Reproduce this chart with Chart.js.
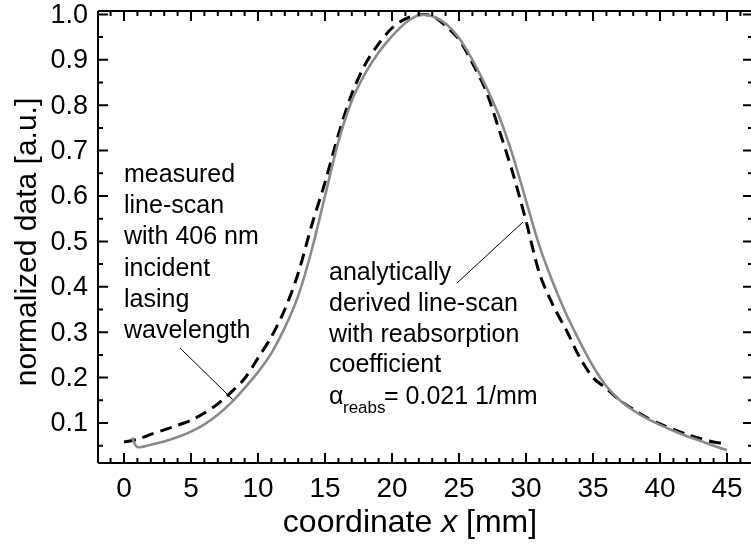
<!DOCTYPE html>
<html>
<head>
<meta charset="utf-8">
<script src="https://cdn.jsdelivr.net/npm/chart.js@4"></script>
<style>
  html, body { margin: 0; padding: 0; background: #fff; }
  #wrap { width: 751px; height: 547px; }
</style>
</head>
<body>
<div id="wrap"><canvas id="lineScan"></canvas></div>
<script>
// ---- DATA ----
// ligne grise : line-scan mesuré
const measuredX = [0.6, 1, 2, 3, 4, 5, 6, 7, 8, 9, 10, 11, 12, 13, 14, 15, 16, 17, 18, 19, 20, 21, 22, 23, 24, 25, 26, 27, 28, 29, 30, 31, 32, 33, 34, 35, 36, 37, 38, 39, 40, 41, 42, 43, 44, 45];
const measuredY = [0.068, 0.047, 0.052, 0.059, 0.069, 0.081, 0.097, 0.118, 0.145, 0.177, 0.212, 0.254, 0.31, 0.38, 0.48, 0.60, 0.72, 0.81, 0.87, 0.916, 0.952, 0.981, 0.998, 0.996, 0.98, 0.948, 0.9, 0.842, 0.775, 0.69, 0.59, 0.49, 0.41, 0.34, 0.28, 0.225, 0.181, 0.15, 0.128, 0.11, 0.096, 0.083, 0.071, 0.061, 0.05, 0.04];

// ligne pointillée : line-scan analytique
const analyticX = [0, 1, 2, 3, 4, 5, 6, 7, 8, 9, 10, 11, 12, 13, 14, 15, 16, 17, 18, 19, 20, 21, 22, 23, 24, 25, 26, 27, 28, 29, 30, 31, 32, 33, 34, 35, 36, 37, 38, 39, 40, 41, 42, 43, 44, 44.7];
const analyticY = [0.058, 0.064, 0.075, 0.085, 0.095, 0.106, 0.122, 0.142, 0.168, 0.198, 0.243, 0.29, 0.35, 0.43, 0.535, 0.63, 0.735, 0.825, 0.89, 0.935, 0.97, 0.99, 0.999, 0.997, 0.975, 0.945, 0.893, 0.833, 0.745, 0.652, 0.545, 0.43, 0.36, 0.305, 0.245, 0.2, 0.176, 0.15, 0.13, 0.112, 0.098, 0.086, 0.075, 0.066, 0.058, 0.055];

// graduations
const xTicks = [0, 5, 10, 15, 20, 25, 30, 35, 40, 45];
const yTicks = [0.1, 0.2, 0.3, 0.4, 0.5, 0.6, 0.7, 0.8, 0.9, 1.0];
const xMinorTicks = [-1, 1, 2, 3, 4, 6, 7, 8, 9, 11, 12, 13, 14, 16, 17, 18, 19, 21, 22, 23, 24, 26, 27, 28, 29, 31, 32, 33, 34, 36, 37, 38, 39, 41, 42, 43, 44, 46];
const yMinorTicks = [0.05, 0.15, 0.25, 0.35, 0.45, 0.55, 0.65, 0.75, 0.85, 0.95];

// textes
const measuredNote = ["measured", "line-scan", "with 406 nm", "incident", "lasing", "wavelength"];
const analyticNote = ["analytically", "derived line-scan", "with reabsorption", "coefficient"];

const FONT = "'Liberation Sans', Arial, sans-serif";

function toPoints(xs, ys) {
  return xs.map((x, i) => ({x: x, y: ys[i]}));
}

// ---- PLUGIN : cadre, graduations vers l'intérieur, textes ----
const framePlugin = {
  id: 'frame',
  afterDraw(chart) {
    const ctx = chart.ctx;
    const a = chart.chartArea;
    const xs = chart.scales.x;
    const ys = chart.scales.y;
    const right = a.right + 2; // le bord droit sort de l'image
    ctx.save();
    ctx.strokeStyle = '#000';
    ctx.lineWidth = 2;
    ctx.beginPath();
    ctx.moveTo(a.left, a.top); ctx.lineTo(right, a.top);
    ctx.moveTo(a.left, a.bottom); ctx.lineTo(right, a.bottom);
    ctx.moveTo(a.left, a.top); ctx.lineTo(a.left, a.bottom);
    ctx.stroke();

    ctx.beginPath();
    xTicks.forEach(v => {
      const p = xs.getPixelForValue(v);
      ctx.moveTo(p, a.bottom); ctx.lineTo(p, a.bottom - 10);
      ctx.moveTo(p, a.top); ctx.lineTo(p, a.top + 10);
    });
    xMinorTicks.forEach(v => {
      const p = xs.getPixelForValue(v);
      ctx.moveTo(p, a.bottom); ctx.lineTo(p, a.bottom - 5);
      ctx.moveTo(p, a.top); ctx.lineTo(p, a.top + 5);
    });
    yTicks.forEach(v => {
      const p = ys.getPixelForValue(v);
      ctx.moveTo(a.left, p); ctx.lineTo(a.left + 10, p);
      ctx.moveTo(right, p); ctx.lineTo(right - 10, p);
    });
    yMinorTicks.forEach(v => {
      const p = ys.getPixelForValue(v);
      ctx.moveTo(a.left, p); ctx.lineTo(a.left + 5, p);
      ctx.moveTo(right, p); ctx.lineTo(right - 5, p);
    });
    ctx.stroke();

    // étiquettes des graduations
    ctx.fillStyle = '#000';
    ctx.font = '27px ' + FONT;
    ctx.textAlign = 'right';
    ctx.textBaseline = 'middle';
    yTicks.forEach(v => ctx.fillText(v.toFixed(1), a.left - 10, ys.getPixelForValue(v) + 1));
    ctx.font = '28px ' + FONT;
    ctx.textAlign = 'center';
    ctx.textBaseline = 'alphabetic';
    xTicks.forEach(v => ctx.fillText(String(v), xs.getPixelForValue(v), 497));

    // titres des axes
    ctx.save();
    ctx.translate(36, 242);
    ctx.rotate(-Math.PI / 2);
    ctx.font = '30px ' + FONT;
    ctx.textAlign = 'center';
    ctx.fillText('normalized data [a.u.]', 0, 0);
    ctx.restore();

    ctx.textAlign = 'left';
    const t1 = 'coordinate ', t2 = 'x', t3 = ' [mm]';
    ctx.font = '32px ' + FONT;
    const w1 = ctx.measureText(t1).width, w3 = ctx.measureText(t3).width;
    ctx.font = 'italic 32px ' + FONT;
    const w2 = ctx.measureText(t2).width;
    let tx = 410 - (w1 + w2 + w3) / 2;
    ctx.font = '32px ' + FONT;
    ctx.fillText(t1, tx, 532);
    ctx.font = 'italic 32px ' + FONT;
    ctx.fillText(t2, tx + w1, 532);
    ctx.font = '32px ' + FONT;
    ctx.fillText(t3, tx + w1 + w2, 532);

    // annotations
    ctx.font = '25px ' + FONT;
    measuredNote.forEach((s, i) => ctx.fillText(s, 124, 182 + i * 31.2));
    analyticNote.forEach((s, i) => ctx.fillText(s, 329, 280 + i * 30.8));
    ctx.fillText('\u03b1', 329, 404);
    ctx.font = '17px ' + FONT;
    ctx.fillText('reabs', 343, 413);
    ctx.font = '25px ' + FONT;
    ctx.fillText('= 0.021 1/mm', 384, 404);

    // traits de rappel
    ctx.lineWidth = 1;
    ctx.beginPath();
    ctx.moveTo(180, 348); ctx.lineTo(xs.getPixelForValue(8.1), ys.getPixelForValue(0.152));
    ctx.moveTo(457, 283); ctx.lineTo(523, 222);
    ctx.stroke();
    ctx.restore();
  }
};

// ---- CONFIGURATION DU GRAPH ----
const data = {
  datasets: [{
    label: 'measured',
    data: toPoints(measuredX, measuredY),
    borderColor: '#8a8a8a',
    borderWidth: 2.6,
    pointRadius: 0,
    tension: 0.3
  }, {
    label: 'analytical',
    data: toPoints(analyticX, analyticY),
    borderColor: '#000',
    borderWidth: 3,
    borderDash: [12, 7],
    pointRadius: 0,
    tension: 0.3
  }]
};

const config = {
  type: 'line',
  data: data,
  options: {
    responsive: false,
    animation: false,
    layout: { padding: { left: 0, right: 0, top: 11, bottom: 0 } },
    plugins: { legend: { display: false }, tooltip: { enabled: false } },
    scales: {
      x: {
        type: 'linear',
        min: -1.94,
        max: 46.79,
        grid: { display: false },
        border: { display: false },
        ticks: { display: false },
        afterFit: s => { s.height = 84; }
      },
      y: {
        min: 0.0119,
        max: 1.0075,
        grid: { display: false },
        border: { display: false },
        ticks: { display: false },
        afterFit: s => { s.width = 98; }
      }
    }
  },
  plugins: [framePlugin]
};

const canvas = document.getElementById('lineScan');
canvas.width = 751;
canvas.height = 547;
const lineScanChart = new Chart(canvas, config);
</script>
</body>
</html>
